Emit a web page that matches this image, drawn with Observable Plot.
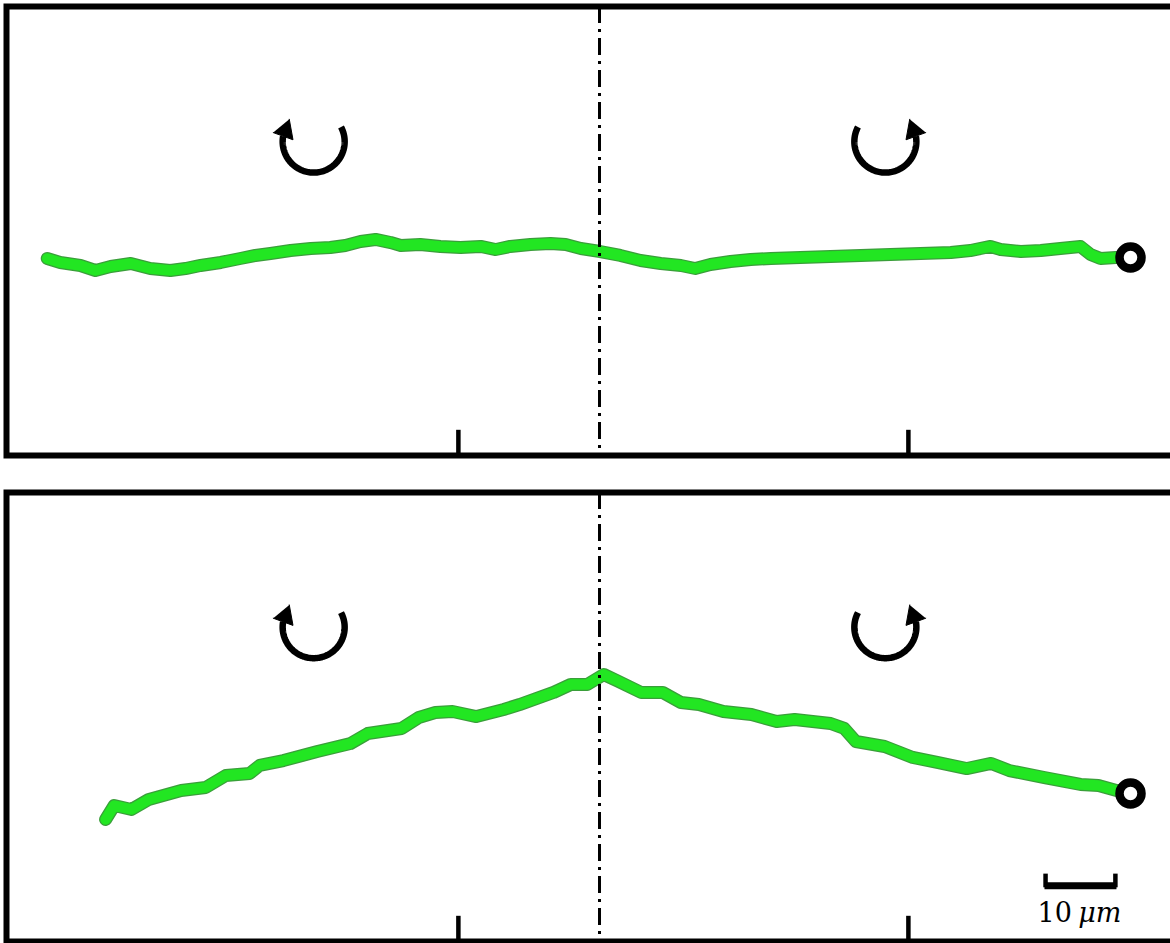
<!DOCTYPE html>
<html><head><meta charset="utf-8">
<script src="https://cdn.jsdelivr.net/npm/d3@7"></script>
<script src="https://cdn.jsdelivr.net/npm/@observablehq/plot@0.6"></script>
<style>
html,body{margin:0;padding:0;background:#fff;overflow:hidden;}
#chart{width:1170px;height:943px;overflow:hidden;}
#chart svg{display:block;}
</style></head><body><div id="chart"></div>
<script>
// Trajectories in μm: x relative to the dash-dot centre line, y relative to the bead (open circle)
const topX = [-76.7,-74.9,-72.1,-70.0,-67.9,-65.1,-62.4,-59.6,-57.5,-55.4,-52.6,-49.9,-47.8,-45.7,-42.9,-40.1,-37.4,-35.3,-33.2,-31.1,-29.0,-27.6,-24.9,-22.1,-19.3,-16.5,-14.4,-12.4,-9.6,-6.8,-4.7,-2.6,0.1,2.9,5.7,8.5,11.3,13.3,15.4,18.2,21.0,23.8,27.9,32.1,36.3,40.4,44.6,48.8,51.5,54.3,55.7,58.5,61.3,64.0,66.8,68.2,69.6,71.7,73.75];
const topY = [-0.14,-0.69,-1.11,-1.81,-1.25,-0.83,-1.53,-1.81,-1.53,-1.11,-0.69,-0.14,0.28,0.56,0.97,1.25,1.39,1.67,2.22,2.5,2.08,1.67,1.81,1.53,1.39,1.53,1.11,1.53,1.81,1.94,1.81,1.25,0.83,0.28,-0.42,-0.83,-1.11,-1.53,-0.97,-0.56,-0.28,-0.14,0,0.14,0.28,0.42,0.56,0.69,0.97,1.53,1.11,0.83,0.97,1.25,1.53,0.42,-0.14,0,0];
const bottomX = [-68.6,-67.4,-65.0,-62.6,-58.1,-54.7,-51.9,-48.6,-47.2,-43.9,-39.2,-34.6,-32.2,-27.5,-25.1,-22.8,-20.4,-17.1,-13.3,-11.1,-6.4,-4.0,-1.7,0.6,2.4,5.8,8.8,11.3,13.8,17.2,21.1,24.6,27.1,32.1,34.0,35.6,39.6,43.5,46.9,51.0,54.4,56.9,61.8,66.8,69.3,71.8,73.75];
const bottomY = [-3.61,-1.67,-2.22,-0.83,0.42,0.83,2.5,2.78,3.89,4.58,5.83,6.94,8.33,9.03,10.56,11.25,11.39,10.69,11.67,12.36,14.03,15.14,15.14,16.53,15.69,14.03,14.03,12.64,12.36,11.39,10.97,10.0,10.28,9.72,9.03,7.22,6.53,5.0,4.31,3.47,4.17,3.19,2.22,1.25,1.11,0.42,0];

const beadX = 73.75, beadY = 0;
const centerLineX = 0;
const tickX = [-19.6, 42.9];
const rotationX = [-39.7, 39.7];          // left and right rotation symbols
const rotationMirror = [false, true];
const rotationY = {top: 16.1, bottom: 23.1};
const scaleBarX0 = 61.8, scaleBarY = -12.8, scaleBarLength = 10;
const scaleBarNumber = "10", scaleBarUnit = "μm";

const PX = 7.2; // pixels per μm (10 μm bar = 72 px)
const xDomain = [-82.36, 79.72];

function rotationArrow(id, cx, cy, mirror) {
  const r = 31, a0 = -28, a1 = 190, aHead = 200, headLen = 18, headHalf = 10.5;
  const m = mirror ? -1 : 1;
  const toData = (sx, sy) => ({id, x: cx + m * sx / PX, y: cy - sy / PX});
  const arc = d3.range(a0, a1 + 0.01, 2).map(a => {
    const t = a * Math.PI / 180;
    return toData(r * Math.cos(t), r * Math.sin(t));
  });
  const te = a1 * Math.PI / 180, th = aHead * Math.PI / 180;
  const ex = r * Math.cos(te), ey = r * Math.sin(te);
  const dx = -Math.sin(th), dy = Math.cos(th);
  const nx = -dy, ny = dx;
  const head = [
    toData(ex + headLen * dx, ey + headLen * dy),
    toData(ex + headHalf * nx, ey + headHalf * ny),
    toData(ex - headHalf * nx, ey - headHalf * ny)
  ];
  return {arc, head};
}

function panel({xs, ys, height, marginTop, marginBottom, yDomain, rotY, withScaleBar}) {
  const traj = xs.map((x, i) => ({x, y: ys[i]}));
  const arrows = rotationX.map((cx, i) => rotationArrow(i, cx, rotY, rotationMirror[i]));
  const arcs = arrows.flatMap(a => a.arc);
  const heads = arrows.flatMap(a => a.head);
  const marks = [
    Plot.line(arcs, {x: "x", y: "y", z: "id", stroke: "black", strokeWidth: 6.5, strokeLinecap: "butt", strokeLinejoin: "round"}),
    Plot.line(heads, {x: "x", y: "y", z: "id", fill: "black", stroke: "black", strokeWidth: 1}),
    Plot.line(traj, {x: "x", y: "y", stroke: "#3a9e3a", strokeWidth: 13, strokeLinejoin: "round", strokeLinecap: "round"}),
    Plot.line(traj, {x: "x", y: "y", stroke: "#22e622", strokeWidth: 10.5, strokeLinejoin: "round", strokeLinecap: "round"}),
    Plot.dot([{x: beadX, y: beadY}], {x: "x", y: "y", r: 11, stroke: "black", strokeWidth: 8.5, fill: "white"}),
    Plot.ruleX([centerLineX], {stroke: "black", strokeWidth: 3, strokeDasharray: "17,6,3,6"}),
    Plot.ruleX(tickX, {x: d => d, y1: yDomain[0], y2: yDomain[0] + 3.5, stroke: "black", strokeWidth: 4.5}),
    Plot.frame({stroke: "black", strokeWidth: 6})
  ];
  if (withScaleBar) {
    const sb = [{x0: scaleBarX0, x1: scaleBarX0 + scaleBarLength, y: scaleBarY}];
    marks.push(
      Plot.link(sb, {x1: "x0", x2: "x1", y1: "y", y2: "y", stroke: "black", strokeWidth: 7, strokeLinecap: "butt"}),
      Plot.ruleX(sb.flatMap(d => [d.x0 + 0.15, d.x1 - 0.15]), {x: d => d, y1: scaleBarY - 0.3, y2: scaleBarY + 1.6, stroke: "black", strokeWidth: 4.5}),
      Plot.text(sb, {x: d => (d.x0 + d.x1) / 2 - 1.2, y: d => d.y - 3.9, text: () => scaleBarNumber, textAnchor: "end", fontFamily: "DejaVu Serif", fontSize: 27, fill: "black"}),
      Plot.text(sb, {x: d => (d.x0 + d.x1) / 2 - 0.3, y: d => d.y - 3.9, text: () => scaleBarUnit, textAnchor: "start", fontFamily: "DejaVu Serif", fontStyle: "italic", fontSize: 27, fill: "black"})
    );
  }
  return Plot.plot({
    width: 1170, height,
    marginLeft: 6, marginRight: -3, marginTop, marginBottom,
    x: {domain: xDomain, axis: null},
    y: {domain: yDomain, axis: null},
    style: {background: "white", overflow: "hidden"},
    marks
  });
}

const chart = document.getElementById("chart");
chart.appendChild(panel({xs: topX, ys: topY, height: 474, marginTop: 6, marginBottom: 19, yDomain: [-27.5, 34.86], rotY: rotationY.top, withScaleBar: false}));
chart.appendChild(panel({xs: bottomX, ys: bottomY, height: 469, marginTop: 18, marginBottom: 2, yDomain: [-20.56, 41.81], rotY: rotationY.bottom, withScaleBar: true}));
</script></body></html>
